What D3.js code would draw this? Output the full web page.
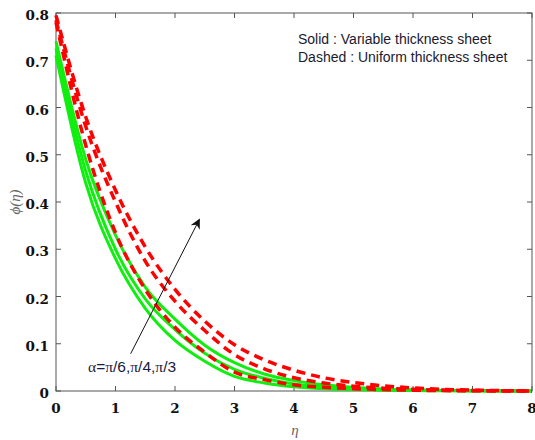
<!DOCTYPE html>
<html>
<head>
<meta charset="utf-8">
<script src="https://cdn.jsdelivr.net/npm/d3@7"></script>
<style>
  body { margin: 0; background: #fff; }
  svg { display: block; }
</style>
</head>
<body>
<script>
// eta grid and the curves
const eta = [0, 0.5, 1, 1.5, 2, 2.5, 3, 3.5, 4, 4.5, 5, 5.5, 6, 6.5, 7, 7.5, 8];

// solid (variable thickness), alpha = pi/6, pi/4, pi/3
const solid1 = [0.71, 0.44, 0.28, 0.175, 0.107, 0.063, 0.031, 0.017, 0.009, 0.005, 0.003, 0.0015, 0.0008, 0.0004, 0.0002, 0.0001, 0];
const solid2 = [0.725, 0.465, 0.30, 0.195, 0.13, 0.08, 0.046, 0.027, 0.015, 0.009, 0.005, 0.003, 0.0015, 0.0008, 0.0004, 0.0002, 0];
const solid3 = [0.74, 0.49, 0.33, 0.22, 0.152, 0.097, 0.06, 0.036, 0.022, 0.013, 0.008, 0.0045, 0.0025, 0.0013, 0.0007, 0.0003, 0];

// dashed (uniform thickness)
const dashed1 = [0.78, 0.52, 0.335, 0.215, 0.135, 0.082, 0.04, 0.024, 0.013, 0.008, 0.005, 0.003, 0.0016, 0.0009, 0.0005, 0.0002, 0];
const dashed2 = [0.785, 0.56, 0.40, 0.275, 0.19, 0.128, 0.077, 0.047, 0.028, 0.017, 0.01, 0.006, 0.0035, 0.002, 0.001, 0.0005, 0];
const dashed3 = [0.795, 0.58, 0.425, 0.305, 0.215, 0.148, 0.098, 0.066, 0.044, 0.028, 0.018, 0.011, 0.0065, 0.0035, 0.0018, 0.0008, 0];

const xTicks = [0, 1, 2, 3, 4, 5, 6, 7, 8];
const yTicks = [0, 0.1, 0.2, 0.3, 0.4, 0.5, 0.6, 0.7, 0.8];

const legendLines = ["Solid : Variable thickness sheet", "Dashed : Uniform thickness sheet"];
const arrowFrom = [1.255, 0.079];
const arrowTo = [2.41, 0.363];

const W = 535, H = 440;
const m = {left: 56, right: 3, top: 13, bottom: 49};

const svg = d3.select("body").append("svg")
    .attr("width", W)
    .attr("height", H);

const x = d3.scaleLinear().domain([0, 8]).range([m.left, W - m.right]);
const y = d3.scaleLinear().domain([0, 0.8]).range([H - m.bottom, m.top]);

const axisColor = "#555";

// frame
svg.append("rect")
    .attr("x", x(0)).attr("y", y(0.8))
    .attr("width", x(8) - x(0)).attr("height", y(0) - y(0.8))
    .attr("fill", "none").attr("stroke", axisColor).attr("stroke-width", 1);

// ticks pointing inwards on all four sides
const tk = 5;
svg.selectAll(".xtb").data(xTicks).enter().append("line")
    .attr("x1", d => x(d)).attr("x2", d => x(d))
    .attr("y1", y(0)).attr("y2", y(0) - tk)
    .attr("stroke", axisColor);
svg.selectAll(".xtt").data(xTicks).enter().append("line")
    .attr("x1", d => x(d)).attr("x2", d => x(d))
    .attr("y1", y(0.8)).attr("y2", y(0.8) + tk)
    .attr("stroke", axisColor);
svg.selectAll(".ytl").data(yTicks).enter().append("line")
    .attr("x1", x(0)).attr("x2", x(0) + tk)
    .attr("y1", d => y(d)).attr("y2", d => y(d))
    .attr("stroke", axisColor);
svg.selectAll(".ytr").data(yTicks).enter().append("line")
    .attr("x1", x(8)).attr("x2", x(8) - tk)
    .attr("y1", d => y(d)).attr("y2", d => y(d))
    .attr("stroke", axisColor);

// tick labels
const tickFont = "'DejaVu Serif', serif";
svg.selectAll(".xl").data(xTicks).enter().append("text")
    .attr("x", d => x(d)).attr("y", y(0) + 22)
    .attr("text-anchor", "middle")
    .style("font-family", tickFont).style("font-weight", "bold").style("font-size", "13.5px")
    .attr("fill", "#111")
    .text(d => d);
svg.selectAll(".yl").data(yTicks).enter().append("text")
    .attr("x", x(0) - 7).attr("y", d => y(d) + 7)
    .attr("text-anchor", "end")
    .style("font-family", tickFont).style("font-weight", "bold").style("font-size", "13.5px")
    .attr("fill", "#111")
    .text(d => d === 0 ? "0" : d3.format(".1f")(d));

// axis titles
svg.append("text")
    .attr("x", 295).attr("y", 435)
    .attr("text-anchor", "middle")
    .style("font-family", "'Liberation Serif', serif").style("font-style", "italic").style("font-size", "15px")
    .attr("fill", "#666")
    .text("η");
svg.append("text")
    .attr("transform", "translate(20," + y(0.4) + ") rotate(-90)")
    .attr("text-anchor", "middle")
    .style("font-family", "'Liberation Serif', serif").style("font-style", "italic").style("font-size", "15px")
    .attr("fill", "#666")
    .text("ϕ(η)");

// curves
const line = d3.line()
    .x((d, i) => x(eta[i]))
    .y(d => y(d))
    .curve(d3.curveMonotoneX);

const plot = svg.append("g");
[solid1, solid2, solid3].forEach(s => {
    plot.append("path").attr("d", line(s))
        .attr("fill", "none").attr("stroke", "#10ee10").attr("stroke-width", 3);
});
[dashed1, dashed2, dashed3].forEach(s => {
    plot.append("path").attr("d", line(s))
        .attr("fill", "none").attr("stroke", "#ff0000").attr("stroke-width", 3.5)
        .attr("stroke-dasharray", "9,6");
});

// arrow
svg.append("defs").append("marker")
    .attr("id", "head")
    .attr("viewBox", "0 0 10 10")
    .attr("refX", 9).attr("refY", 5)
    .attr("markerWidth", 10).attr("markerHeight", 10)
    .attr("markerUnits", "userSpaceOnUse")
    .attr("orient", "auto")
    .append("path").attr("d", "M0,0 L10,5 L0,10 L3,5 Z").attr("fill", "#111");
svg.append("line")
    .attr("x1", x(arrowFrom[0])).attr("y1", y(arrowFrom[1]))
    .attr("x2", x(arrowTo[0])).attr("y2", y(arrowTo[1]))
    .attr("stroke", "#111").attr("stroke-width", 1)
    .attr("marker-end", "url(#head)");

// alpha label
const lab = svg.append("text")
    .attr("x", 88).attr("y", 372)
    .style("font-family", "'Liberation Sans', Arial, sans-serif").style("font-size", "15.5px")
    .attr("fill", "#1a1a40");
const greek = s => lab.append("tspan").style("font-family", "'Liberation Serif', serif").text(s);
const plain = s => lab.append("tspan").text(s);
greek("α"); plain("="); greek("π"); plain("/6,"); greek("π"); plain("/4,"); greek("π"); plain("/3");

// legend text
svg.selectAll(".leg").data(legendLines).enter().append("text")
    .attr("x", 298).attr("y", (d, i) => 44 + i * 18)
    .style("font-family", "'Liberation Sans', Arial, sans-serif").style("font-size", "14px")
    .attr("fill", "#1a1a30")
    .text(d => d);
</script>
</body>
</html>
